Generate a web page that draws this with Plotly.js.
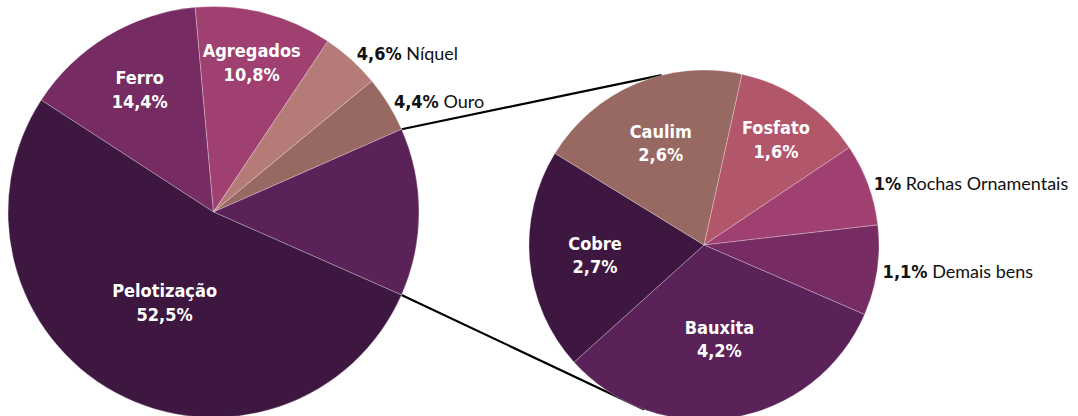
<!DOCTYPE html>
<html>
<head>
<meta charset="utf-8">
<script src="https://cdn.plot.ly/plotly-3.0.1.min.js"></script>
<style>
html, body { margin: 0; padding: 0; overflow: hidden; background: #ffffff; }
#chart { width: 1078px; height: 424px; }
</style>
</head>
<body>
<div id="chart"></div>
<script>
// ---- Data ----
const mainLabels = ['Ferro', 'Agregados', 'Níquel', 'Ouro', 'Outros', 'Pelotização'];
const subLabels = ['Fosfato', 'Rochas Ornamentais', 'Demais bens', 'Bauxita', 'Cobre', 'Caulim'];
const subValues = [1.6, 1.0, 1.1, 4.2, 2.7, 2.6];
const mainKnown = [14.4, 10.8, 4.6, 4.4, null, 52.5];
const mainValues = mainKnown.map(v => v === null ? Math.round(subValues.reduce((a, b) => a + b, 0) * 10) / 10 : v);
const mainColors = ['#762b63', '#a04070', '#b47b79', '#986862', '#5a2259', '#3d1740'];
const subColors = ['#b2566a', '#a04070', '#762b63', '#5a2259', '#3d1740', '#986862'];
const mainPos = ['inside', 'inside', 'outside', 'outside', 'none', 'inside'];
const subPos = ['inside', 'outside', 'outside', 'inside', 'inside', 'inside'];

const W = 1078, H = 424;
const fmt = v => String(v).replace('.', ',');
const BOLD = "'DejaVu Sans Condensed', 'Liberation Sans Narrow', sans-serif";
const REG = "Lato, 'Open Sans', 'Noto Sans', sans-serif";

function makeText(labels, values, pos) {
  return labels.map((l, i) => {
    if (pos[i] === 'inside') return '<b>' + l + '</b><br><b>' + fmt(values[i]) + '%</b>';
    if (pos[i] === 'outside') return '<b style="font-family:DejaVu Sans Condensed;font-size:18px">' + fmt(values[i]) + '%</b> ' + l;
    return '';
  });
}

const leftDomain = { x: [8 / W, 419 / W], y: [6.5 / H, 417.5 / H] };
const rightDomain = { x: [529 / W, 879 / W], y: [4 / H, 354 / H] };
const leftRotation = -57;
const rightRotation = 12.5;

const sliceLine = { color: 'rgba(255,255,255,0.35)', width: 0.8 };

function pieTrace(labels, values, colors, pos, rotation, domain) {
  return {
    type: 'pie',
    labels: labels,
    values: values,
    sort: false,
    direction: 'clockwise',
    rotation: rotation,
    domain: domain,
    marker: { colors: colors, line: sliceLine },
    text: makeText(labels, values, pos),
    textinfo: 'text',
    textposition: pos,
    insidetextorientation: 'horizontal',
    insidetextfont: { family: BOLD, size: 18, color: '#ffffff' },
    outsidetextfont: { family: REG, size: 17, color: '#111111' },
    hoverinfo: 'skip',
    showlegend: false
  };
}

const traceMain = pieTrace(mainLabels, mainValues, mainColors, mainPos, leftRotation, leftDomain);
const traceSub = pieTrace(subLabels, subValues, subColors, subPos, rightRotation, rightDomain);

// ---- Connector lines derived from pie geometry ----
function circle(domain) {
  const x0 = domain.x[0] * W, x1 = domain.x[1] * W;
  const y0 = (1 - domain.y[1]) * H, y1 = (1 - domain.y[0]) * H;
  return { cx: (x0 + x1) / 2, cy: (y0 + y1) / 2, r: Math.min(x1 - x0, y1 - y0) / 2 };
}
function pointAt(c, deg) {
  const a = deg * Math.PI / 180;
  const px = c.cx + c.r * Math.sin(a), py = c.cy - c.r * Math.cos(a);
  return { x: px / W, y: 1 - py / H };
}
const total = mainValues.reduce((a, b) => a + b, 0);
const outIdx = mainLabels.indexOf('Outros');
let cumBefore = 0;
for (let i = 0; i < outIdx; i++) cumBefore += mainValues[i];
const outStart = leftRotation + cumBefore / total * 360;
const outEnd = outStart + mainValues[outIdx] / total * 360;
const L = circle(leftDomain), R = circle(rightDomain);
const pA = pointAt(L, outStart), pB = pointAt(R, -14);
const pC = pointAt(L, outEnd), pD = pointAt(R, 200);

const layout = {
  width: W,
  height: H,
  margin: { l: 0, r: 0, t: 0, b: 0 },
  paper_bgcolor: '#ffffff',
  plot_bgcolor: '#ffffff',
  showlegend: false,
  separators: ',.',
  uniformtext: { mode: 'show', minsize: 18 },
  shapes: [
    { type: 'line', xref: 'paper', yref: 'paper', x0: pA.x, y0: pA.y, x1: pB.x, y1: pB.y, line: { color: '#000000', width: 2.2 }, layer: 'below' },
    { type: 'line', xref: 'paper', yref: 'paper', x0: pC.x, y0: pC.y, x1: pD.x, y1: pD.y, line: { color: '#000000', width: 2.2 }, layer: 'below' }
  ]
};

Plotly.newPlot('chart', [traceMain, traceSub], layout, { displayModeBar: false, staticPlot: true });
</script>
</body>
</html>
